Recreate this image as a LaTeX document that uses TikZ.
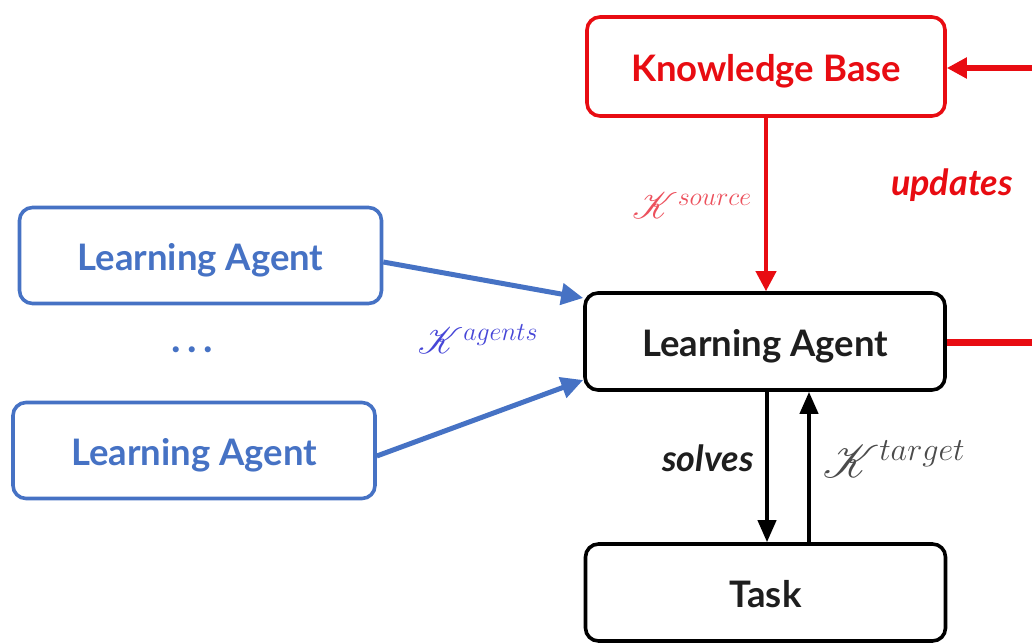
\RequirePackage{fix-cm}
\documentclass[tikz,border=0pt]{standalone}
\usepackage{fontspec}
\usepackage{mathrsfs}
% make the script K scalable to any size
\DeclareFontFamily{U}{rsfs}{\skewchar\font127 }
\DeclareFontShape{U}{rsfs}{m}{n}{<-> rsfs10}{}
\setmainfont{Lato}
\usetikzlibrary{arrows.meta}
\definecolor{kbred}{RGB}{232,12,18}
\definecolor{srcred}{RGB}{236,80,92}
\definecolor{agblue}{RGB}{70,114,196}
\definecolor{kblue}{RGB}{70,70,215}
\definecolor{txtgray}{RGB}{30,30,30}
\tikzset{
  box/.style={draw, line width=3.6pt, rounded corners=13pt, align=center,
    font=\fontsize{36.5}{40}\selectfont\bfseries, inner sep=0pt,
    text height=30pt, text depth=0pt},
  kbbox/.style={box, draw=kbred, text=kbred, minimum width=358pt, minimum height=99pt},
  agbox/.style={box, draw=agblue, text=agblue, minimum width=362pt, minimum height=96pt},
  mainbox/.style={box, draw=black, text=txtgray, minimum width=360pt, minimum height=97pt},
  redarrow/.style={draw=kbred, line width=4pt, -{Triangle[length=20pt,width=20pt]}},
  bluearrow/.style={draw=agblue, line width=5pt, -{Triangle[length=22pt,width=21pt]}},
  blackarrow/.style={draw=black, line width=4pt, -{Triangle[length=22pt,width=18pt]}},
  mathlbl/.style={font=\fontsize{37}{42}\selectfont},
  wordlbl/.style={font=\fontsize{36}{40}\selectfont\bfseries\itshape}
}
\begin{document}
\begin{tikzpicture}[x=1pt,y=-1pt]
  \useasboundingbox (0,0) rectangle (1032,642);

  % boxes
  \node[kbbox]   (kb)   at (766,66.5)  {Knowledge Base};
  \node[agbox]   (ag1)  at (200.5,255.5) {Learning Agent};
  \node[agbox]   (ag2)  at (194,450.5) {Learning Agent};
  \node[mainbox] (la)   at (765,341.5) {Learning Agent};
  \node[mainbox] (task) at (765.5,592.5) {Task};
  \node[font=\fontsize{40}{44}\selectfont\bfseries, text=agblue] (dots) at (192,350) {.\,.\,.};

  % off-page ends of the feedback loop
  \coordinate (loopin)  at (1040,68);
  \coordinate (loopout) at (1040,342);

  % knowledge flow
  \draw[redarrow] (kb.south -| 766,0) -- (la.north -| 766,0);
  \draw[redarrow, line width=6pt] (loopin) -- (kb.east |- 0,68);
  \draw[draw=kbred, line width=7pt] (la.east |- 0,342) -- (loopout);

  \draw[bluearrow] (ag1.east |- 0,262) -- (la.west |- 0,298);
  \draw[bluearrow] (ag2.east |- 0,456) -- (la.west |- 0,380);

  \draw[blackarrow] (la.south -| 767,0) -- (task.north -| 767,0);
  \draw[blackarrow] (task.north -| 809,0) -- (la.south -| 809,0);

  % labels
  \node[mathlbl, text=srcred]  (lsrc) at (692,206) {$\mathscr{K}^{source}$};
  \node[wordlbl, text=kbred]   (lupd) at (952,185) {updates};
  \node[mathlbl, text=kblue]   (lagt) at (478,339) {$\mathscr{K}^{agents}$};
  \node[wordlbl, text=txtgray] (lsol) at (708,458) {solves};
  \node[mathlbl, font=\fontsize{46}{52}\selectfont, text=txtgray!80] (ltgt) at (894,459) {$\mathscr{K}^{target}$};
\end{tikzpicture}
\end{document}
